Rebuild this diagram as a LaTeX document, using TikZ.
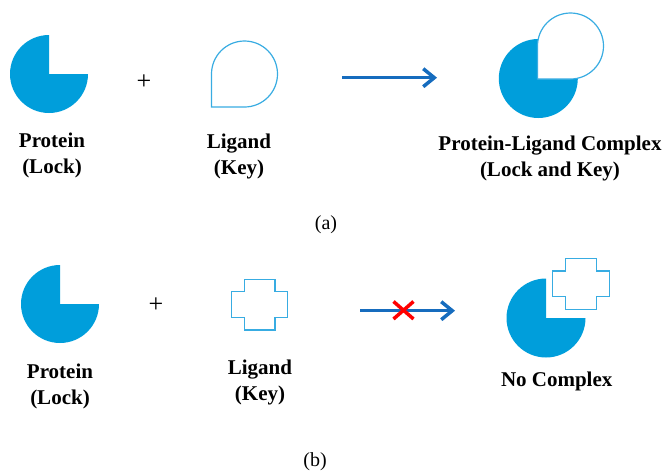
\documentclass[tikz,border=0pt]{standalone}
\usepackage{fontspec}
\setmainfont{Liberation Serif}
\usetikzlibrary{arrows.meta}
\definecolor{protblue}{RGB}{0,158,219}
\definecolor{ligblue}{RGB}{56,172,226}
\definecolor{arrblue}{RGB}{22,108,190}
\tikzset{
  protein/.style={fill=protblue, draw=none},
  ligand/.style={draw=ligblue, line width=1.2pt, fill=white, line join=miter},
  label/.style={align=center, font=\fontsize{21}{26}\selectfont\bfseries, inner sep=0pt},
  caption/.style={font=\fontsize{20}{24}\selectfont, inner sep=0pt},
  plus/.style={font=\fontsize{26}{26}\selectfont, inner sep=0pt},
  react/.style={draw=arrblue, line width=3.5pt, -{Straight Barb[length=11pt,width=18pt,line width=3.5pt]}},
  nox/.style={draw=red, line width=3.5pt},
}
\begin{document}
\begin{tikzpicture}[x=1pt,y=-1pt]
\useasboundingbox (0,0) rectangle (667,472);

% ---------- (a) ----------
\fill[protein] (49,74) -- ++(0:39) arc (0:270:39) -- cycle;
\node[plus] (plusa) at (144,82) {+};
\draw[ligand] (244.5,107) arc (90:-180:33) -- (211.5,107) -- cycle;

\coordinate (a1) at (342,77.7);
\coordinate (a2) at (437,77.7);
\draw[react] (a1) -- (a2);

\fill[protein] (538.3,78.5) -- ++(0:39.5) arc (0:270:39.5) -- cycle;
\draw[ligand] (570.5,79) arc (90:-180:33) -- (537.5,79) -- cycle;

\node[label] (prota) at (52,155) {Protein\\(Lock)};
\node[label] (liga) at (239,156.5) {Ligand\\(Key)};
\node[label] (compa) at (550,158.3) {Protein-Ligand Complex\\(Lock and Key)};
\node[caption] (capa) at (326,224.5) {(a)};

% ---------- (b) ----------
\fill[protein] (60,304) -- ++(0:39) arc (0:270:39) -- cycle;
\node[plus] (plusb) at (156,305) {+};
\draw[ligand] (244.3,279.3) -- (275,279.3) -- (275,291.7) -- (287.3,291.7) -- (287.3,317.3)
  -- (275,317.3) -- (275,330) -- (244.3,330) -- (244.3,317.3) -- (231.7,317.3)
  -- (231.7,291.7) -- (244.3,291.7) -- cycle;

\coordinate (b1) at (360,310.7);
\coordinate (b2) at (455,310.7);
\draw[react] (b1) -- (b2);
\coordinate (x1) at (393.5,301.5);
\coordinate (x2) at (413.5,319);
\coordinate (x3) at (413.5,301.5);
\coordinate (x4) at (393.5,319);
\draw[nox] (x1) -- (x2);
\draw[nox] (x3) -- (x4);

\fill[protein] (546,318) -- ++(0:39.5) arc (0:270:39.5) -- cycle;
\draw[ligand] (565.3,258.3) -- (596.7,258.3) -- (596.7,271) -- (609.3,271) -- (609.3,296.7)
  -- (596.7,296.7) -- (596.7,309.3) -- (565.3,309.3) -- (565.3,296.7) -- (552.7,296.7)
  -- (552.7,271) -- (565.3,271) -- cycle;

\node[label] (protb) at (60,386.7) {Protein\\(Lock)};
\node[label] (ligb) at (260,382.5) {Ligand\\(Key)};
\node[label] (compb) at (556.7,381) {No Complex};
\node[caption] (capb) at (315,461.7) {(b)};
\end{tikzpicture}
\end{document}
